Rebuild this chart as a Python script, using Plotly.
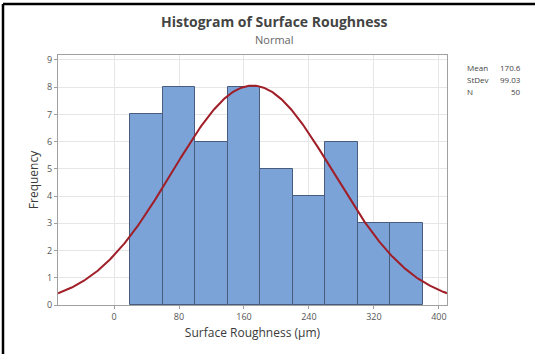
import numpy as np
import plotly.graph_objects as go

# Data
bin_centers = [40, 80, 120, 160, 200, 240, 280, 320, 360]
counts = [7, 8, 6, 8, 5, 4, 6, 3, 3]
bin_width = 40
mean = 170.6
stdev = 99.03
n = 50
x_ticks = [0, 80, 160, 240, 320, 400]
y_ticks = [0, 1, 2, 3, 4, 5, 6, 7, 8, 9]

x_range = [-69, 410]
y_range = [0, 9.18]

xs = np.linspace(x_range[0], x_range[1], 400)
ys = n * bin_width / (stdev * np.sqrt(2 * np.pi)) * np.exp(-0.5 * ((xs - mean) / stdev) ** 2)

FONT = "Open Sans"

fig = go.Figure()
fig.add_trace(go.Bar(
    x=bin_centers, y=counts, width=bin_width,
    marker=dict(color="rgb(123,163,216)", line=dict(color="rgb(72,92,125)", width=1)),
    showlegend=False, hoverinfo="skip"))
fig.add_trace(go.Scatter(
    x=xs, y=ys, mode="lines",
    line=dict(color="rgb(160,30,40)", width=2),
    showlegend=False, hoverinfo="skip", cliponaxis=True))

fig.update_layout(
    width=535, height=354,
    margin=dict(l=58, r=88, t=55, b=49),
    paper_bgcolor="white", plot_bgcolor="white",
    font=dict(family=FONT, color="#555555"),
    bargap=0,
    xaxis=dict(range=x_range, tickvals=x_ticks, showgrid=True, gridcolor="#e6e6e6",
               gridwidth=1, zeroline=False, showline=True, linecolor="#a0a0a0", mirror=True,
               ticks="outside", ticklen=3, tickcolor="#a0a0a0",
               tickfont=dict(size=9, color="#555555"),
               title=dict(text="Surface Roughness (µm)", font=dict(size=12, color="#3a3a3a"), standoff=6)),
    yaxis=dict(range=y_range, tickvals=y_ticks, showgrid=True, gridcolor="#e6e6e6",
               gridwidth=1, zeroline=False, showline=True, linecolor="#a0a0a0", mirror=True,
               ticks="outside", ticklen=3, tickcolor="#a0a0a0",
               tickfont=dict(size=9, color="#555555"),
               title=dict(text="Frequency", font=dict(size=12, color="#3a3a3a"), standoff=5)),
)

# Title and subtitle
fig.add_annotation(text="<b>Histogram of Surface Roughness</b>", xref="paper", yref="paper",
                   x=0.555, y=1 + (55 - 22) / 250, showarrow=False,
                   font=dict(size=14, color="#444444", family=FONT), xanchor="center", yanchor="middle")
fig.add_annotation(text="Normal", xref="paper", yref="paper",
                   x=0.555, y=1 + (55 - 40) / 250, showarrow=False,
                   font=dict(size=11, color="#666666", family=FONT), xanchor="center", yanchor="middle")

# Stats box
labels = ["Mean", "StDev", "N"]
values = [f"{mean}", f"{stdev}", f"{n}"]
for i, (lab, val) in enumerate(zip(labels, values)):
    ypx = 67 + 12 * i
    yp = 1 - (ypx - 55) / 250
    fig.add_annotation(text=lab, xref="paper", yref="paper", x=(465 - 58) / 389, y=yp,
                       showarrow=False, xanchor="left", yanchor="middle",
                       font=dict(size=8, color="#444444", family=FONT))
    fig.add_annotation(text=val, xref="paper", yref="paper", x=(523 - 58) / 389, y=yp,
                       showarrow=False, xanchor="right", yanchor="middle",
                       font=dict(size=8, color="#444444", family=FONT))

# Black frame (top and left)
fig.add_shape(type="line", xref="paper", yref="paper",
              x0=(3 - 58) / 389, x1=(535 - 58) / 389, y0=1 + (55 - 4) / 250, y1=1 + (55 - 4) / 250,
              line=dict(color="black", width=2.5))
fig.add_shape(type="line", xref="paper", yref="paper",
              x0=(3 - 58) / 389, x1=(3 - 58) / 389, y0=1 + (55 - 4) / 250, y1=1 - (354 - 55) / 250,
              line=dict(color="black", width=2.5))

fig.write_html("out.html", config={"displayModeBar": False},
               post_script="document.body.style.margin='0';document.body.style.overflow='hidden';")
